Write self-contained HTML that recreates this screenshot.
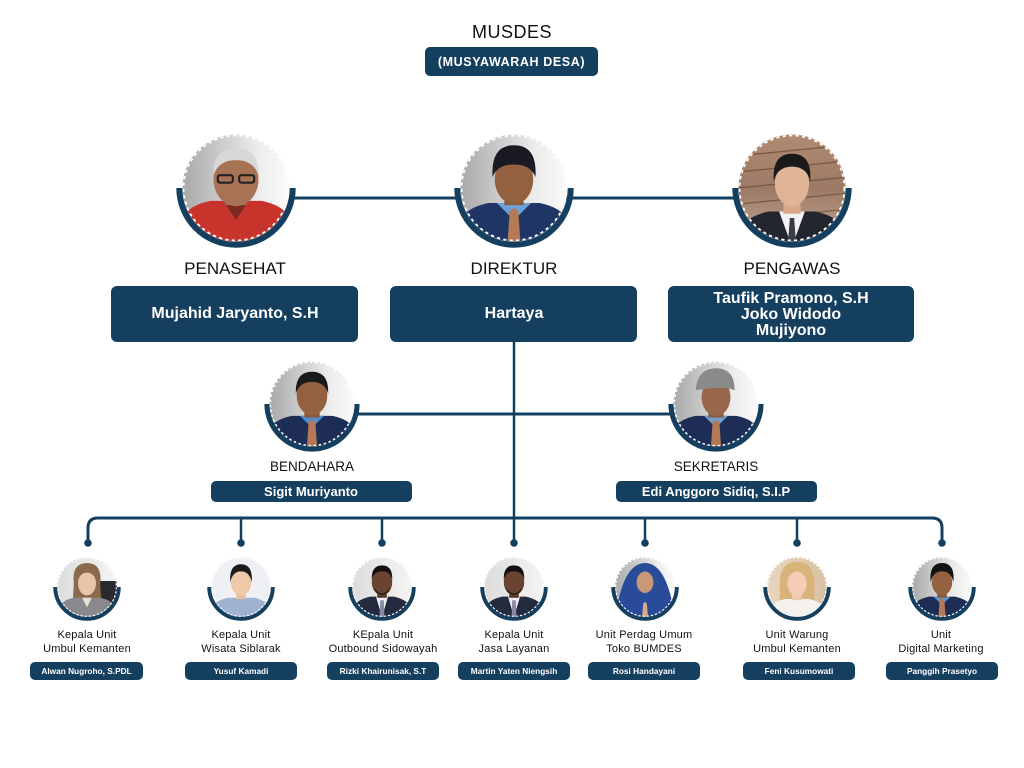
<!DOCTYPE html>
<html><head><meta charset="utf-8"><style>
html,body{margin:0;padding:0;background:#fff;}
svg{display:block;}
text{font-family:"Liberation Sans",sans-serif;}
</style></head><body>
<svg width="1024" height="768" viewBox="0 0 1024 768" xmlns="http://www.w3.org/2000/svg">
<defs>
<clipPath id="c" clipPathUnits="userSpaceOnUse"><circle cx="0" cy="0" r="50"/></clipPath>
<linearGradient id="bg" x1="0" y1="0" x2="1" y2="0"><stop offset="0" stop-color="#a9a9a9"/><stop offset="0.7" stop-color="#ececec"/><stop offset="1" stop-color="#fafafa"/></linearGradient>
<linearGradient id="bgl" x1="0" y1="0" x2="1" y2="0"><stop offset="0" stop-color="#dcdcdc"/><stop offset="1" stop-color="#f4f4f4"/></linearGradient>
<linearGradient id="bgw" x1="0" y1="0" x2="0" y2="1"><stop offset="0" stop-color="#b08a70"/><stop offset="0.5" stop-color="#9c7a66"/><stop offset="1" stop-color="#c4a58e"/></linearGradient>
<linearGradient id="bgo" x1="0" y1="0" x2="1" y2="0"><stop offset="0" stop-color="#e8d6c0"/><stop offset="1" stop-color="#d9c0a4"/></linearGradient>
</defs>

<!-- header -->
<text x="512" y="38" font-size="18" text-anchor="middle" fill="#111" letter-spacing="0.5">MUSDES</text>
<rect x="425" y="47" width="173" height="29" rx="5" fill="#153f5f"/>
<text x="511.5" y="66" font-size="12.5" font-weight="bold" text-anchor="middle" fill="#fff" letter-spacing="0.6">(MUSYAWARAH DESA)</text>

<!-- connectors -->
<g stroke="#153f5f" fill="none">
<line x1="292" y1="198" x2="736" y2="198" stroke-width="3"/>
<line x1="514" y1="342" x2="514" y2="543" stroke-width="2.5"/>
<line x1="356" y1="414" x2="672" y2="414" stroke-width="3"/>
<path d="M88 543 V528 Q88 518 98 518 H932 Q942 518 942 528 V543" stroke-width="3"/>
<line x1="241" y1="518" x2="241" y2="543" stroke-width="2.5"/>
<line x1="382" y1="518" x2="382" y2="543" stroke-width="2.5"/>
<line x1="645" y1="518" x2="645" y2="543" stroke-width="2.5"/>
<line x1="797" y1="518" x2="797" y2="543" stroke-width="2.5"/>
</g>
<g fill="#153f5f">
<circle cx="88" cy="543" r="3.8"/><circle cx="241" cy="543" r="3.8"/><circle cx="382" cy="543" r="3.8"/>
<circle cx="514" cy="543" r="3.8"/><circle cx="645" cy="543" r="3.8"/><circle cx="797" cy="543" r="3.8"/><circle cx="942" cy="543" r="3.8"/>
</g>

<!-- PENASEHAT portrait -->
<g transform="translate(236,188) scale(1.07)">
<g clip-path="url(#c)">
<rect x="-50" y="-50" width="100" height="100" fill="url(#bg)"/>
<path d="M-55 55 L-50 28 Q-44 16 -24 12 L24 12 Q44 16 50 28 L55 55 Z" fill="#c8332c"/>
<path d="M-12 12 L0 30 L12 12Z" fill="#7a2a20"/>
<rect x="-10" y="0" width="20" height="16" fill="#9c6a4e"/>
<ellipse cx="0" cy="-8" rx="21" ry="25" fill="#a87255"/>
<path d="M-21 -12 Q-22 -37 0 -37 Q22 -37 21 -12 Q16 -26 0 -26 Q-16 -26 -21 -12Z" fill="#d8d8d8"/>
<rect x="-17" y="-12" width="14" height="7" rx="2" fill="none" stroke="#222" stroke-width="2"/>
<rect x="3" y="-12" width="14" height="7" rx="2" fill="none" stroke="#222" stroke-width="2"/>
</g>
<circle r="49" fill="none" stroke="#fff" stroke-width="1.6" stroke-dasharray="3 3"/>
<path d="M-53 0 A53 53 0 0 0 53 0" fill="none" stroke="#153f5f" stroke-width="5.6"/>
</g>

<!-- DIREKTUR portrait -->
<g transform="translate(514,188) scale(1.07)">
<g clip-path="url(#c)">
<rect x="-50" y="-50" width="100" height="100" fill="url(#bg)"/>
<path d="M-55 55 L-50 30 Q-44 18 -24 14 L24 14 Q44 18 50 30 L55 55 Z" fill="#1f3566"/>
<path d="M-16 14 L0 30 L16 14Z" fill="#6fa0d8"/>
<rect x="-9" y="0" width="18" height="16" fill="#8a5a3c"/>
<ellipse cx="0" cy="-8" rx="18" ry="23" fill="#93613f"/>
<path d="M-20 -10 Q-22 -40 0 -40 Q22 -40 20 -10 Q16 -22 0 -22 Q-16 -22 -20 -10Z" fill="#1a1a22"/>
<path d="M-6 50 L-4 22 Q0 16 4 22 L6 50Z" fill="#b57a55"/>
</g>
<circle r="49" fill="none" stroke="#fff" stroke-width="1.6" stroke-dasharray="3 3"/>
<path d="M-53 0 A53 53 0 0 0 53 0" fill="none" stroke="#153f5f" stroke-width="5.6"/>
</g>

<!-- PENGAWAS portrait -->
<g transform="translate(792,188) scale(1.07)">
<g clip-path="url(#c)">
<rect x="-50" y="-50" width="100" height="100" fill="url(#bgw)"/>
<g stroke="#5a4030" stroke-width="1.2" opacity="0.6"><line x1="-50" y1="-30" x2="50" y2="-40"/><line x1="-50" y1="-15" x2="50" y2="-25"/><line x1="-50" y1="0" x2="50" y2="-10"/><line x1="-50" y1="15" x2="50" y2="5"/><line x1="-50" y1="30" x2="50" y2="20"/></g>
<path d="M-55 55 L-48 36 Q-40 26 -22 22 L22 22 Q40 26 48 36 L55 55 Z" fill="#23262e"/>
<path d="M-12 22 L0 55 L12 22Z" fill="#f2f2f2"/>
<path d="M-2 28 L2 28 L4 55 L-4 55Z" fill="#3a3d48"/>
<rect x="-8" y="6" width="16" height="18" fill="#d8a888"/>
<ellipse cx="0" cy="-4" rx="16" ry="21" fill="#e0b496"/>
<path d="M-17 -6 Q-19 -32 0 -32 Q19 -32 17 -6 Q14 -20 0 -20 Q-14 -20 -17 -6Z" fill="#1a1a1a"/>
</g>
<circle r="49" fill="none" stroke="#fff" stroke-width="1.6" stroke-dasharray="3 3"/>
<path d="M-53 0 A53 53 0 0 0 53 0" fill="none" stroke="#153f5f" stroke-width="5.6"/>
</g>

<!-- top labels & boxes -->
<g font-size="17" fill="#111" text-anchor="middle">
<text x="235" y="274">PENASEHAT</text>
<text x="514" y="274">DIREKTUR</text>
<text x="792" y="274">PENGAWAS</text>
</g>
<rect x="111" y="286" width="247" height="56" rx="6" fill="#153f5f"/>
<rect x="390" y="286" width="247" height="56" rx="6" fill="#153f5f"/>
<rect x="668" y="286" width="246" height="56" rx="6" fill="#153f5f"/>
<g font-size="16" font-weight="bold" fill="#fff" text-anchor="middle">
<text x="235" y="318">Mujahid Jaryanto, S.H</text>
<text x="514" y="318">Hartaya</text>
<text x="791" y="303">Taufik Pramono, S.H</text>
<text x="791" y="319">Joko Widodo</text>
<text x="791" y="335">Mujiyono</text>
</g>

<!-- BENDAHARA portrait -->
<g transform="translate(312,404) scale(0.85)">
<g clip-path="url(#c)">
<rect x="-50" y="-50" width="100" height="100" fill="url(#bg)"/>
<path d="M-55 55 L-50 30 Q-44 18 -24 14 L24 14 Q44 18 50 30 L55 55 Z" fill="#1d2d55"/>
<path d="M-14 14 L0 28 L14 14Z" fill="#4f8ed0"/>
<rect x="-9" y="0" width="18" height="16" fill="#8a5a3c"/>
<ellipse cx="0" cy="-10" rx="18" ry="23" fill="#93613f"/>
<path d="M-19 -12 Q-20 -38 0 -38 Q20 -38 19 -12 Q15 -26 0 -26 Q-15 -26 -19 -12Z" fill="#1a1a1a"/>
<path d="M-6 50 L-4 22 Q0 16 4 22 L6 50Z" fill="#b57a55"/>
</g>
<circle r="49" fill="none" stroke="#fff" stroke-width="1.8" stroke-dasharray="3 3"/>
<path d="M-53 0 A53 53 0 0 0 53 0" fill="none" stroke="#153f5f" stroke-width="6"/>
</g>

<!-- SEKRETARIS portrait -->
<g transform="translate(716,404) scale(0.85)">
<g clip-path="url(#c)">
<rect x="-50" y="-50" width="100" height="100" fill="url(#bg)"/>
<path d="M-55 55 L-50 30 Q-44 18 -24 14 L24 14 Q44 18 50 30 L55 55 Z" fill="#1d2d55"/>
<path d="M-14 14 L0 28 L14 14Z" fill="#6f9fd0"/>
<rect x="-9" y="0" width="18" height="16" fill="#8a5a3c"/>
<ellipse cx="0" cy="-8" rx="17" ry="22" fill="#98664a"/>
<path d="M-24 -16 Q-22 -42 0 -42 Q22 -42 22 -16 Q10 -22 -24 -16Z" fill="#8a8a88"/>
<path d="M-6 50 L-4 22 Q0 16 4 22 L6 50Z" fill="#b57a55"/>
</g>
<circle r="49" fill="none" stroke="#fff" stroke-width="1.8" stroke-dasharray="3 3"/>
<path d="M-53 0 A53 53 0 0 0 53 0" fill="none" stroke="#153f5f" stroke-width="6"/>
</g>

<g font-size="13.5" fill="#111" text-anchor="middle">
<text x="312" y="471">BENDAHARA</text>
<text x="716" y="471">SEKRETARIS</text>
</g>
<rect x="211" y="481" width="201" height="21" rx="5" fill="#153f5f"/>
<rect x="616" y="481" width="201" height="21" rx="5" fill="#153f5f"/>
<g font-size="13" font-weight="bold" fill="#fff" text-anchor="middle">
<text x="311" y="496">Sigit Muriyanto</text>
<text x="716" y="496">Edi Anggoro Sidiq, S.I.P</text>
</g>

<!-- bottom portraits -->
<!-- 1 woman -->
<g transform="translate(87,587) scale(0.6)">
<g clip-path="url(#c)">
<rect x="-50" y="-50" width="100" height="100" fill="url(#bgl)"/>
<rect x="10" y="-10" width="40" height="60" fill="#2a2a2e"/>
<path d="M-22 -5 Q-26 -40 0 -40 Q26 -40 22 -5 L24 30 L-24 30Z" fill="#8a6a4a"/>
<path d="M-55 55 L-46 32 Q-40 22 -22 18 L22 18 Q40 22 46 32 L55 55 Z" fill="#8a8a8e"/>
<path d="M-8 18 L0 34 L8 18Z" fill="#e8e0d8"/>
<ellipse cx="0" cy="-6" rx="15" ry="20" fill="#eac4aa"/>
<path d="M-16 -8 Q-17 -34 0 -34 Q17 -34 16 -8 Q12 -24 0 -24 Q-12 -24 -16 -8Z" fill="#8a6a4a"/>
</g>
<circle r="49" fill="none" stroke="#fff" stroke-width="2.2" stroke-dasharray="4 3"/>
<path d="M-53 0 A53 53 0 0 0 53 0" fill="none" stroke="#153f5f" stroke-width="6.5"/>
</g>
<!-- 2 asian man -->
<g transform="translate(241,587) scale(0.6)">
<g clip-path="url(#c)">
<rect x="-50" y="-50" width="100" height="100" fill="#eef0f3"/>
<path d="M-55 55 L-48 32 Q-40 22 -22 18 L22 18 Q40 22 48 32 L55 55 Z" fill="#9fb3d0"/>
<rect x="-8" y="2" width="16" height="18" fill="#e8c0a0"/>
<ellipse cx="0" cy="-8" rx="17" ry="22" fill="#efc8a8"/>
<path d="M-18 -8 Q-20 -38 0 -38 Q20 -38 18 -8 Q14 -26 0 -26 Q-14 -26 -18 -8Z" fill="#1a1a1a"/>
</g>
<circle r="49" fill="none" stroke="#fff" stroke-width="2.2" stroke-dasharray="4 3"/>
<path d="M-53 0 A53 53 0 0 0 53 0" fill="none" stroke="#153f5f" stroke-width="6.5"/>
</g>
<!-- 3 man suit -->
<g transform="translate(382,587) scale(0.6)">
<g clip-path="url(#c)">
<rect x="-50" y="-50" width="100" height="100" fill="url(#bgl)"/>
<path d="M-55 55 L-46 30 Q-38 20 -20 16 L20 16 Q38 20 46 30 L55 55 Z" fill="#252b3e"/>
<path d="M-10 16 L0 50 L10 16Z" fill="#f0f0f0"/>
<path d="M-3 22 L3 22 L4 50 L-4 50Z" fill="#8a8aa8"/>
<rect x="-8" y="0" width="16" height="18" fill="#5a3a28"/>
<ellipse cx="0" cy="-8" rx="17" ry="22" fill="#6a4430"/>
<path d="M-14 0 Q0 22 14 0 Q10 12 0 13 Q-10 12 -14 0Z" fill="#1a1210"/>
<path d="M-17 -12 Q-18 -36 0 -36 Q18 -36 17 -12 Q14 -26 0 -26 Q-14 -26 -17 -12Z" fill="#151010"/>
</g>
<circle r="49" fill="none" stroke="#fff" stroke-width="2.2" stroke-dasharray="4 3"/>
<path d="M-53 0 A53 53 0 0 0 53 0" fill="none" stroke="#153f5f" stroke-width="6.5"/>
</g>
<!-- 4 man suit -->
<g transform="translate(514,587) scale(0.6)">
<g clip-path="url(#c)">
<rect x="-50" y="-50" width="100" height="100" fill="url(#bgl)"/>
<path d="M-55 55 L-46 30 Q-38 20 -20 16 L20 16 Q38 20 46 30 L55 55 Z" fill="#252b3e"/>
<path d="M-10 16 L0 50 L10 16Z" fill="#f0f0f0"/>
<path d="M-3 22 L3 22 L4 50 L-4 50Z" fill="#8a8aa8"/>
<rect x="-8" y="0" width="16" height="18" fill="#5a3a28"/>
<ellipse cx="0" cy="-8" rx="17" ry="22" fill="#6a4430"/>
<path d="M-14 0 Q0 22 14 0 Q10 12 0 13 Q-10 12 -14 0Z" fill="#1a1210"/>
<path d="M-17 -12 Q-18 -36 0 -36 Q18 -36 17 -12 Q14 -26 0 -26 Q-14 -26 -17 -12Z" fill="#151010"/>
</g>
<circle r="49" fill="none" stroke="#fff" stroke-width="2.2" stroke-dasharray="4 3"/>
<path d="M-53 0 A53 53 0 0 0 53 0" fill="none" stroke="#153f5f" stroke-width="6.5"/>
</g>
<!-- 5 hijab -->
<g transform="translate(645,587) scale(0.6)">
<g clip-path="url(#c)">
<rect x="-50" y="-50" width="100" height="100" fill="url(#bg)"/>
<path d="M-55 55 L-44 20 Q-30 -40 0 -40 Q30 -40 44 20 L55 55Z" fill="#2a4a9a"/>
<ellipse cx="0" cy="-8" rx="14" ry="18" fill="#c89878"/>
<path d="M-5 50 L-3 28 Q0 22 3 28 L5 50Z" fill="#d8a888"/>
</g>
<circle r="49" fill="none" stroke="#fff" stroke-width="2.2" stroke-dasharray="4 3"/>
<path d="M-53 0 A53 53 0 0 0 53 0" fill="none" stroke="#153f5f" stroke-width="6.5"/>
</g>
<!-- 6 blonde woman -->
<g transform="translate(797,587) scale(0.6)">
<g clip-path="url(#c)">
<rect x="-50" y="-50" width="100" height="100" fill="url(#bgo)"/>
<path d="M-28 10 Q-34 -42 0 -42 Q34 -42 28 10 L30 30 L-30 30Z" fill="#d9b47a"/>
<path d="M-55 55 L-46 34 Q-38 24 -20 20 L20 20 Q38 24 46 34 L55 55 Z" fill="#f4f2ee"/>
<rect x="-8" y="4" width="16" height="18" fill="#f0c8b0"/>
<ellipse cx="0" cy="-6" rx="16" ry="21" fill="#f3cdb4"/>
<path d="M-18 -6 Q-20 -34 0 -34 Q20 -34 18 -6 Q12 -26 0 -26 Q-12 -26 -18 -6Z" fill="#d9b47a"/>
</g>
<circle r="49" fill="none" stroke="#fff" stroke-width="2.2" stroke-dasharray="4 3"/>
<path d="M-53 0 A53 53 0 0 0 53 0" fill="none" stroke="#153f5f" stroke-width="6.5"/>
</g>
<!-- 7 man navy -->
<g transform="translate(942,587) scale(0.6)">
<g clip-path="url(#c)">
<rect x="-50" y="-50" width="100" height="100" fill="url(#bg)"/>
<path d="M-55 55 L-48 30 Q-40 20 -22 16 L22 16 Q40 20 48 30 L55 55 Z" fill="#1d2d55"/>
<path d="M-14 16 L0 30 L14 16Z" fill="#5f9ad8"/>
<rect x="-8" y="0" width="16" height="18" fill="#8a5a3c"/>
<ellipse cx="0" cy="-8" rx="17" ry="22" fill="#93613f"/>
<path d="M-19 -8 Q-22 -40 0 -40 Q22 -40 19 -8 Q15 -26 0 -26 Q-15 -26 -19 -8Z" fill="#141414"/>
<path d="M-6 50 L-4 22 Q0 16 4 22 L6 50Z" fill="#b57a55"/>
</g>
<circle r="49" fill="none" stroke="#fff" stroke-width="2.2" stroke-dasharray="4 3"/>
<path d="M-53 0 A53 53 0 0 0 53 0" fill="none" stroke="#153f5f" stroke-width="6.5"/>
</g>

<!-- bottom labels -->
<g font-size="11" fill="#111" text-anchor="middle" letter-spacing="0.2">
<text x="87" y="638">Kepala Unit</text><text x="87" y="652">Umbul Kemanten</text>
<text x="241" y="638">Kepala Unit</text><text x="241" y="652">Wisata Siblarak</text>
<text x="383" y="638">KEpala Unit</text><text x="383" y="652">Outbound Sidowayah</text>
<text x="514" y="638">Kepala Unit</text><text x="514" y="652">Jasa Layanan</text>
<text x="644" y="638">Unit Perdag Umum</text><text x="644" y="652">Toko BUMDES</text>
<text x="797" y="638">Unit Warung</text><text x="797" y="652">Umbul Kemanten</text>
<text x="941" y="638">Unit</text><text x="941" y="652">Digital Marketing</text>
</g>
<g fill="#153f5f">
<rect x="30" y="662" width="113" height="18" rx="5"/>
<rect x="185" y="662" width="112" height="18" rx="5"/>
<rect x="327" y="662" width="112" height="18" rx="5"/>
<rect x="458" y="662" width="112" height="18" rx="5"/>
<rect x="588" y="662" width="112" height="18" rx="5"/>
<rect x="743" y="662" width="112" height="18" rx="5"/>
<rect x="886" y="662" width="112" height="18" rx="5"/>
</g>
<g font-size="8.3" font-weight="bold" fill="#fff" text-anchor="middle">
<text x="86.5" y="674">Alwan Nugroho, S.PDL</text>
<text x="241" y="674">Yusuf Kamadi</text>
<text x="383" y="674">Rizki Khairunisak, S.T</text>
<text x="514" y="674">Martin Yaten Niengsih</text>
<text x="644" y="674">Rosi Handayani</text>
<text x="799" y="674">Feni Kusumowati</text>
<text x="942" y="674">Panggih Prasetyo</text>
</g>
</svg>
</body></html>
